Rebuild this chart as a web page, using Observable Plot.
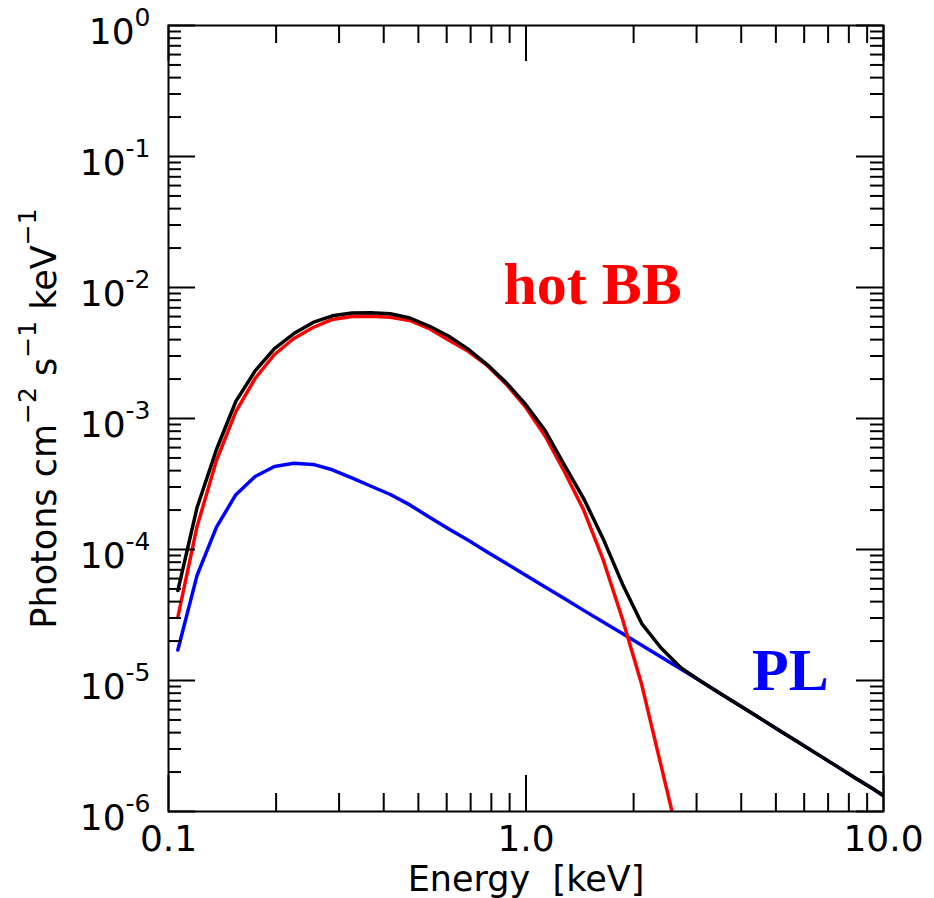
<!DOCTYPE html>
<html>
<head>
<meta charset="utf-8">
<script src="https://cdn.jsdelivr.net/npm/d3@7"></script>
<script src="https://cdn.jsdelivr.net/npm/@observablehq/plot@0.6"></script>
<style>
  html, body { margin: 0; padding: 0; background: #fff; }
  #chart { width: 934px; height: 898px; }
</style>
</head>
<body>
<div id="chart"></div>
<script>
// ---- data ----
const energy = [0.1062, 0.1202, 0.1362, 0.1543, 0.1747, 0.1979, 0.2242, 0.2538, 0.2873, 0.3256,
  0.3687, 0.4175, 0.4732, 0.5358, 0.6067, 0.6875, 0.7785, 0.8815, 0.9982, 1.131,
  1.280, 1.450, 1.643, 1.861, 2.107, 2.387, 2.703, 3.061, 3.468, 3.928,
  4.447, 5.036, 5.706, 6.462, 7.317, 8.292, 9.389, 10.0];

const plFlux = [1.71e-5, 6.34e-5, 1.48e-4, 2.62e-4, 3.61e-4, 4.30e-4, 4.56e-4, 4.46e-4, 4.06e-4, 3.52e-4,
  3.04e-4, 2.63e-4, 2.19e-4, 1.77e-4, 1.44e-4, 1.18e-4, 9.59e-5, 7.81e-5, 6.35e-5, 5.17e-5,
  4.22e-5, 3.43e-5, 2.80e-5, 2.28e-5, 1.86e-5, 1.51e-5, 1.23e-5, 1.00e-5, 8.07e-6, 6.53e-6,
  5.28e-6, 4.27e-6, 3.45e-6, 2.79e-6, 2.26e-6, 1.82e-6, 1.48e-6, 1.32e-6];

const bbFlux = [3.04e-5, 1.50e-4, 4.78e-4, 1.13e-3, 2.02e-3, 3.08e-3, 4.08e-3, 4.95e-3, 5.70e-3, 6.01e-3,
  6.04e-3, 5.93e-3, 5.60e-3, 4.86e-3, 3.97e-3, 3.27e-3, 2.54e-3, 1.82e-3, 1.22e-3, 7.35e-4,
  3.94e-4, 2.0e-4, 8.4e-5, 2.95e-5, 9.31e-6, 2.24e-6, 5.41e-7, 1.26e-7];

const totalFlux = [4.86e-5, 2.09e-4, 5.80e-4, 1.35e-3, 2.31e-3, 3.42e-3, 4.45e-3, 5.41e-3, 6.08e-3, 6.38e-3,
  6.41e-3, 6.30e-3, 5.85e-3, 5.08e-3, 4.26e-3, 3.40e-3, 2.58e-3, 1.87e-3, 1.28e-3, 8.09e-4,
  4.42e-4, 2.45e-4, 1.21e-4, 5.46e-5, 2.72e-5, 1.77e-5, 1.26e-5, 1.00e-5, 8.07e-6, 6.53e-6,
  5.28e-6, 4.27e-6, 3.45e-6, 2.79e-6, 2.26e-6, 1.82e-6, 1.48e-6, 1.32e-6];

const xMajorTicks = [0.1, 1, 10];
const xTickLabels = ["0.1", "1.0", "10.0"];
const xMinorTicks = [0.2, 0.3, 0.4, 0.5, 0.6, 0.7, 0.8, 0.9, 2, 3, 4, 5, 6, 7, 8, 9];
const yExponents = [0, -1, -2, -3, -4, -5, -6];
const yMinorMultipliers = [2, 3, 4, 5, 6, 7, 8, 9];

const xLabel = "Energy  [keV]";
const yLabel = "Photons cm{−2} s{−1} keV{−1}";
const bbLabel = "hot BB";
const plLabel = "PL";

// ---- derived tables ----
const plData = energy.map((e, i) => ({E: e, F: plFlux[i]}));
const bbData = bbFlux.map((f, i) => ({E: energy[i], F: f}));
const totData = energy.map((e, i) => ({E: e, F: totalFlux[i]}));
const yMajorTicks = yExponents.map(k => Math.pow(10, k));
const yMinorTicks = [];
for (const k of yExponents.slice(1)) for (const m of yMinorMultipliers) yMinorTicks.push(m * Math.pow(10, k));
const xTickTable = xMajorTicks.map((v, i) => ({v, label: xTickLabels[i]}));
const yTickTable = yExponents.map(k => ({v: Math.pow(10, k), label: "10^" + k}));

// ---- layout ----
const W = 934, H = 898;
const mL = 168, mR = 51, mT = 25, mB = 87;
const pW = W - mL - mR, pH = H - mT - mB;
const tickW = 2;
const lineW = 3.5;

const svg = Plot.plot({
  width: W, height: H,
  marginLeft: mL, marginRight: mR, marginTop: mT, marginBottom: mB,
  x: {type: "log", domain: [0.1, 10], axis: null},
  y: {type: "log", domain: [1e-6, 1], axis: null},
  style: {fontFamily: "DejaVu Sans", background: "white", overflow: "visible", color: "black"},
  marks: [
    // lines
    Plot.line(plData, {x: "E", y: "F", stroke: "#0000ff", strokeWidth: lineW, clip: true}),
    Plot.line(bbData, {x: "E", y: "F", stroke: "#ff0000", strokeWidth: lineW, clip: true}),
    Plot.line(totData, {x: "E", y: "F", stroke: "#000000", strokeWidth: lineW, clip: true}),
    // ticks: bottom & top
    Plot.tickX(xMinorTicks, {x: d => d, insetTop: pH - 18, stroke: "black", strokeWidth: tickW}),
    Plot.tickX(xMinorTicks, {x: d => d, insetBottom: pH - 18, stroke: "black", strokeWidth: tickW}),
    Plot.tickX(xMajorTicks, {x: d => d, insetTop: pH - 36, stroke: "black", strokeWidth: tickW}),
    Plot.tickX(xMajorTicks, {x: d => d, insetBottom: pH - 36, stroke: "black", strokeWidth: tickW}),
    // ticks: left & right
    Plot.tickY(yMinorTicks, {y: d => d, insetRight: pW - 13, stroke: "black", strokeWidth: tickW}),
    Plot.tickY(yMinorTicks, {y: d => d, insetLeft: pW - 13, stroke: "black", strokeWidth: tickW}),
    Plot.tickY(yMajorTicks, {y: d => d, insetRight: pW - 27, stroke: "black", strokeWidth: tickW}),
    Plot.tickY(yMajorTicks, {y: d => d, insetLeft: pW - 27, stroke: "black", strokeWidth: tickW}),
    Plot.frame({stroke: "black", strokeWidth: 2}),
    // tick labels
    Plot.text(xTickTable, {x: "v", text: "label", frameAnchor: "bottom", lineAnchor: "bottom", dy: 39,
      fontSize: 36, fill: "black", textAnchor: "middle"}),
    Plot.text(yTickTable, {y: "v", text: "label", frameAnchor: "left", lineAnchor: "bottom", dy: 18, dx: -18,
      fontSize: 36, fill: "black", textAnchor: "end"}),
    // axis titles
    Plot.text([xLabel], {text: d => d, frameAnchor: "bottom", lineAnchor: "bottom", dy: 79,
      fontSize: 35, fill: "black", textAnchor: "middle"}),
    Plot.text([yLabel], {text: d => d, frameAnchor: "left", lineAnchor: "bottom", dx: -113, rotate: -90,
      fontSize: 35, fill: "black", textAnchor: "middle"}),
    // annotations
    Plot.text([bbLabel], {x: 0.865, y: 0.0075, text: d => d, textAnchor: "start", lineAnchor: "bottom",
      fontFamily: "Liberation Serif", fontWeight: "bold", fontSize: 60, fill: "#ff0000"}),
    Plot.text([plLabel], {x: 4.29, y: 8.4e-6, text: d => d, textAnchor: "start", lineAnchor: "bottom",
      fontFamily: "Liberation Serif", fontWeight: "bold", fontSize: 60, fill: "#0000ff"})
  ]
});

// superscripts: tick labels "10^k" and y title parts in {…}
d3.select(svg).selectAll("text").each(function () {
  const t = this.textContent;
  const sel = d3.select(this);
  if (t.includes("^")) {
    const [base, sup] = t.split("^");
    sel.text(null);
    sel.append("tspan").text(base);
    sel.append("tspan").attr("dy", -18).attr("font-size", 25).text(sup);
  } else if (t.includes("{")) {
    sel.text(null);
    const parts = t.split(/(\{[^}]*\})/).filter(s => s.length);
    let raised = false;
    for (const p of parts) {
      if (p.startsWith("{")) {
        sel.append("tspan").attr("dy", -20).attr("font-size", 25).text(p.slice(1, -1));
        raised = true;
      } else {
        const ts = sel.append("tspan").text(p);
        if (raised) { ts.attr("dy", 20); raised = false; }
      }
    }
  }
});

document.getElementById("chart").appendChild(svg);
</script>
</body>
</html>
